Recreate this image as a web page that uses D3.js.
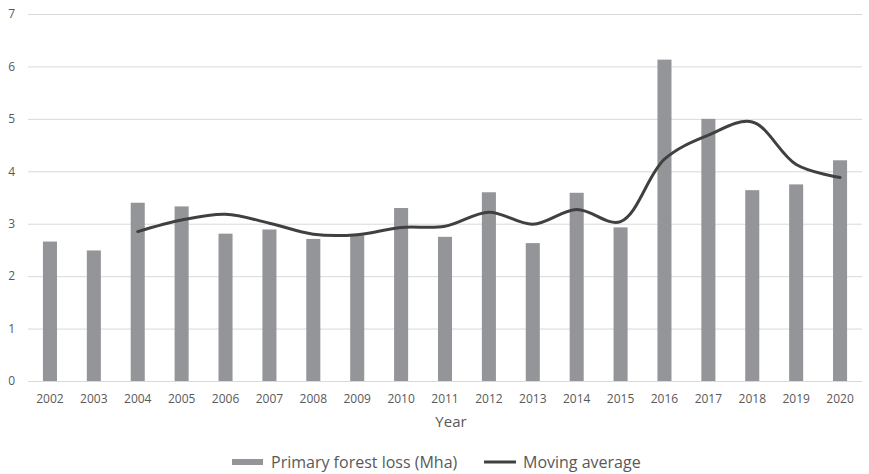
<!DOCTYPE html>
<html><head><meta charset="utf-8">
<script src="https://cdn.jsdelivr.net/npm/d3@7"></script>
<style>
html,body{margin:0;padding:0;background:#fff;}
svg{display:block;font-family:"Open Sans",sans-serif;}
</style></head>
<body>
<svg id="chart" width="869" height="474"></svg>
<script>
const years = ["2002","2003","2004","2005","2006","2007","2008","2009","2010","2011","2012","2013","2014","2015","2016","2017","2018","2019","2020"];
const forestLoss = [2.66,2.49,3.40,3.33,2.81,2.89,2.71,2.78,3.30,2.75,3.60,2.63,3.59,2.93,6.13,5.00,3.64,3.75,4.21];
const maYears = ["2004","2005","2006","2007","2008","2009","2010","2011","2012","2013","2014","2015","2016","2017","2018","2019","2020"];
const movingAvg = [2.85,3.07,3.18,3.01,2.80,2.79,2.93,2.95,3.22,2.99,3.27,3.04,4.23,4.69,4.94,4.13,3.88];
const yTicks = [0,1,2,3,4,5,6,7];
const seriesNames = ["Primary forest loss (Mha)","Moving average"];

const svg = d3.select("#chart");
const mLeft = 28, mRight = 862, mTop = 14, mBottom = 381;
const x = d3.scaleBand().domain(years).range([mLeft,mRight]).paddingInner(0.68).paddingOuter(0.34);
const y = d3.scaleLinear().domain([0,7]).range([mBottom,mTop]);

// gridlines
svg.append("g").selectAll("line").data(yTicks).join("line")
  .attr("x1",mLeft).attr("x2",mRight)
  .attr("y1",d=>y(d)+0.5).attr("y2",d=>y(d)+0.5)
  .attr("stroke","#d9d9d9").attr("stroke-width",1);

// y tick labels
const yAxis = svg.append("g").attr("transform",`translate(${mLeft},0)`)
  .call(d3.axisLeft(y).tickValues(yTicks).tickSize(0).tickPadding(13).tickFormat(d3.format("d")));
yAxis.select(".domain").remove();
yAxis.selectAll("text").attr("fill","#595959").style("font-size","12px").style("font-family","'Open Sans',sans-serif");

// bars
svg.append("g").selectAll("rect").data(years).join("rect")
  .attr("x",d=>x(d)).attr("width",x.bandwidth())
  .attr("y",(d,i)=>y(forestLoss[i])).attr("height",(d,i)=>y(0)-y(forestLoss[i]))
  .attr("fill","#939598");

// x axis labels
const xAxis = svg.append("g").attr("transform",`translate(0,${mBottom})`)
  .call(d3.axisBottom(x).tickSize(0).tickPadding(13));
xAxis.select(".domain").remove();
xAxis.selectAll("text").attr("fill","#595959").style("font-size","12px").style("font-family","'Open Sans',sans-serif");

// moving average line
const line = d3.line().x((d,i)=>x(maYears[i])+x.bandwidth()/2).y(d=>y(d)).curve(d3.curveCatmullRom.alpha(0.5));
svg.append("path").datum(movingAvg).attr("d",line)
  .attr("fill","none").attr("stroke","#404040").attr("stroke-width",3).attr("stroke-linecap","round");

// axis title
svg.append("text").attr("x",451).attr("y",427).attr("text-anchor","middle")
  .attr("fill","#595959").style("font-size","15px").text("Year");

// legend
const lg = svg.append("g");
lg.append("rect").attr("x",232).attr("y",459).attr("width",31).attr("height",6).attr("fill","#939598");
lg.append("text").attr("x",271).attr("y",468).attr("fill","#595959").style("font-size","16px").text(seriesNames[0]);
lg.append("line").attr("x1",484).attr("x2",516).attr("y1",462).attr("y2",462).attr("stroke","#404040").attr("stroke-width",3);
lg.append("text").attr("x",523).attr("y",468).attr("fill","#595959").style("font-size","16px").text(seriesNames[1]);
</script>
</body></html>
